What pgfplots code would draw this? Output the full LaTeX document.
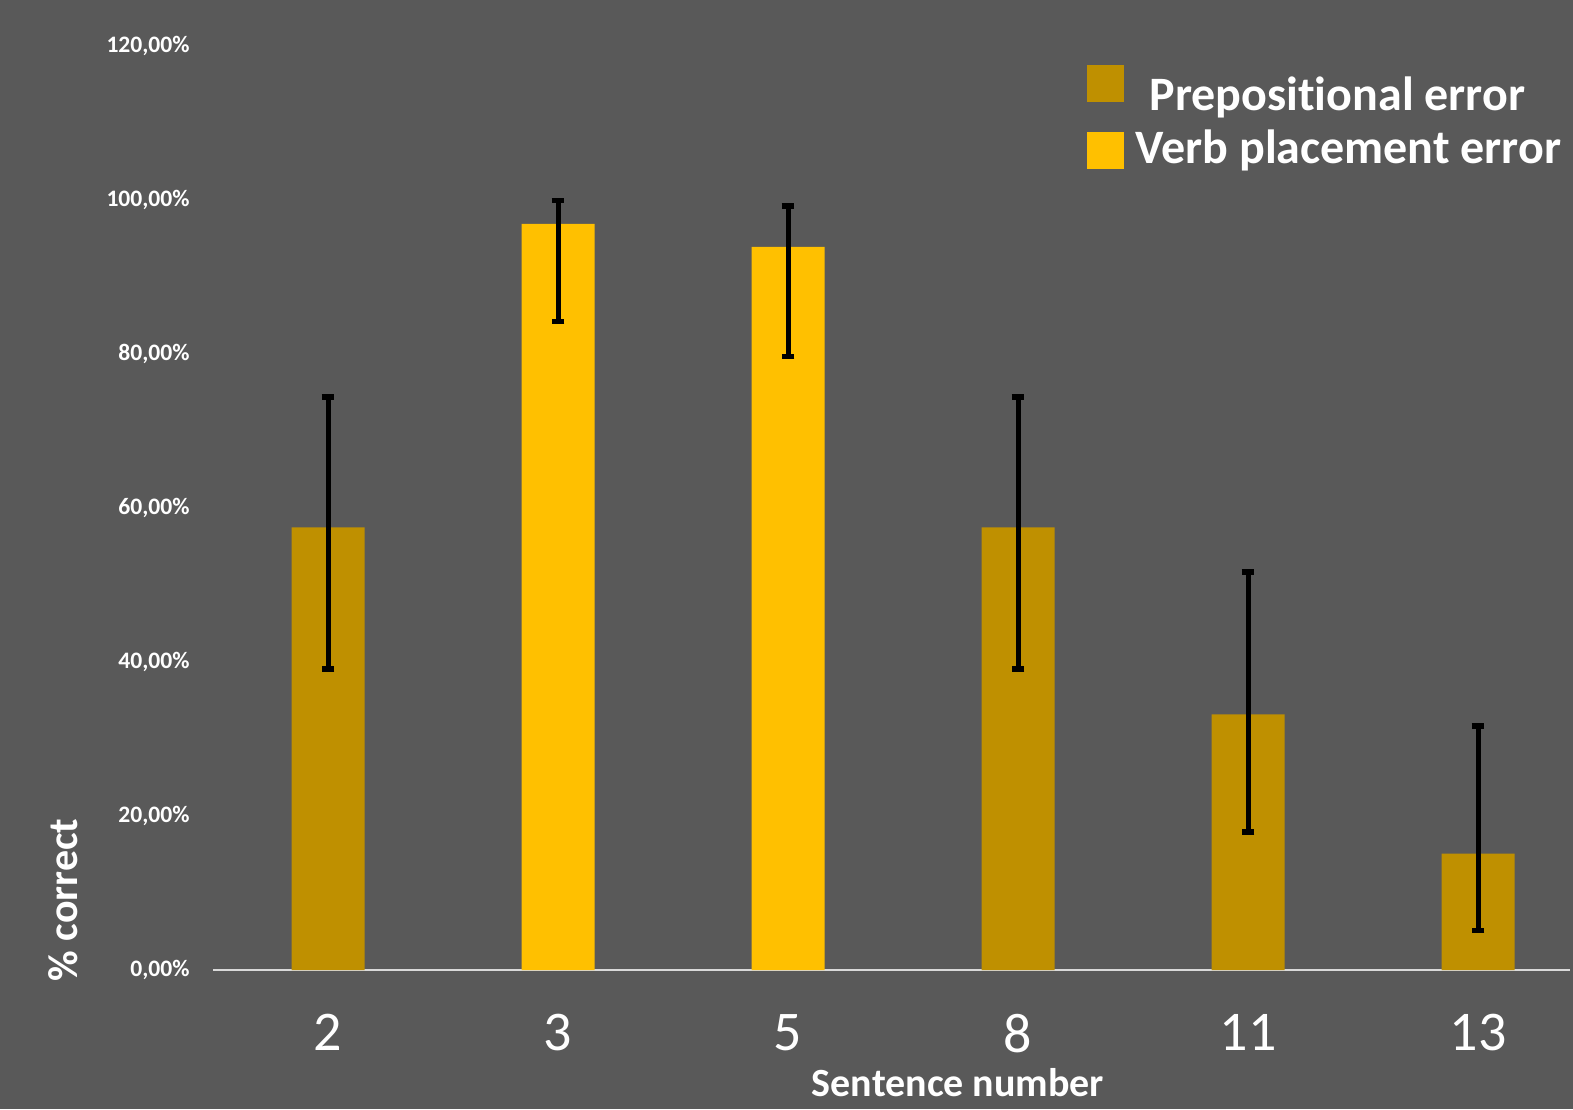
\documentclass[border=0pt]{standalone}
\usepackage{pgfplots}
\pgfplotsset{compat=1.18}
\usepackage{fontspec}
\setmainfont{Carlito}[Ligatures={NoCommon}]
\definecolor{bgcol}{HTML}{595959}
\definecolor{prep}{HTML}{BF9000}
\definecolor{verb}{HTML}{FFC000}
\definecolor{axcol}{HTML}{D9D9D9}
\begin{document}
\begin{tikzpicture}
\fill[bgcol] (0,0) rectangle (786.5pt,554.5pt);
\begin{axis}[
  at={(106.5pt,69.5pt)}, anchor=south west,
  scale only axis, width=678.5pt, height=462pt,
  xmin=-0.5, xmax=5.4, ymin=0, ymax=120,
  axis lines*=left,
  y axis line style={draw=none},
  x axis line style={-, color=axcol, line width=1pt},
  xtick={0,1,2,3,4,5}, xticklabels={2,3,5,8,11,13},
  ytick={0,20,40,60,80,100,120},
  yticklabels={0{,}00\%,20{,}00\%,40{,}00\%,60{,}00\%,80{,}00\%,100{,}00\%,120{,}00\%},
  major tick length=0pt,
  xticklabel style={font=\fontsize{28}{30}\selectfont, text=white, anchor=north, inner sep=0pt, yshift=-22pt},
  yticklabel style={font=\fontsize{11.8}{13}\selectfont\bfseries, text=white, anchor=east, inner sep=0pt, xshift=-11.5pt},
  ybar, bar width=36.5pt,
  legend style={at={(axis description cs:0.639,0.984)}, anchor=north west, draw=none, fill=none,
    text=white, font=\fontsize{24}{26}\selectfont\bfseries, row sep=1.5pt,
    nodes={inner sep=1pt}},
  legend cell align=left,
  error bars/y dir=both, error bars/y explicit,
  error bars/error bar style={line width=2.5pt, black},
  error bars/error mark options={rotate=90, mark size=3.2pt, line width=2.7pt, black},
]
\addplot[fill=prep, draw=none, bar shift=0pt,
  legend image code/.code={\path[fill=none,draw=none] (0pt,-10pt) rectangle (18.5pt,15pt);\fill[prep] (0pt,-3.5pt) rectangle (18.5pt,15pt);}] coordinates {
  (0,57.5) += (0,16.9) -= (0,18.4)
  (3,57.5) += (0,16.9) -= (0,18.4)
  (4,33.2) += (0,18.5) -= (0,15.3)
  (5,15.1) += (0,16.6) -= (0,10.0)
};
\addlegendentry{\hspace*{12pt}Prepositional error}
\addplot[fill=verb, draw=none, bar shift=0pt,
  legend image code/.code={\path[fill=none,draw=none] (0pt,-10pt) rectangle (18.5pt,15pt);\fill[verb] (0pt,-10pt) rectangle (18.5pt,8.5pt);}] coordinates {
  (1,96.9) += (0,3.0) -= (0,12.7)
  (2,93.9) += (0,5.3) -= (0,14.2)
};
\addlegendentry{\hspace*{5pt}Verb placement error}
\end{axis}
\node[text=white, font=\fontsize{20}{22}\selectfont\bfseries] at (479pt,13pt) {Sentence number};
\node[text=white, font=\fontsize{21}{23}\selectfont\bfseries, rotate=90] at (31.5pt,104.5pt) {\% correct};
\pgfresetboundingbox
\useasboundingbox (0,0) rectangle (786.5pt,554.5pt);
\end{tikzpicture}
\end{document}
